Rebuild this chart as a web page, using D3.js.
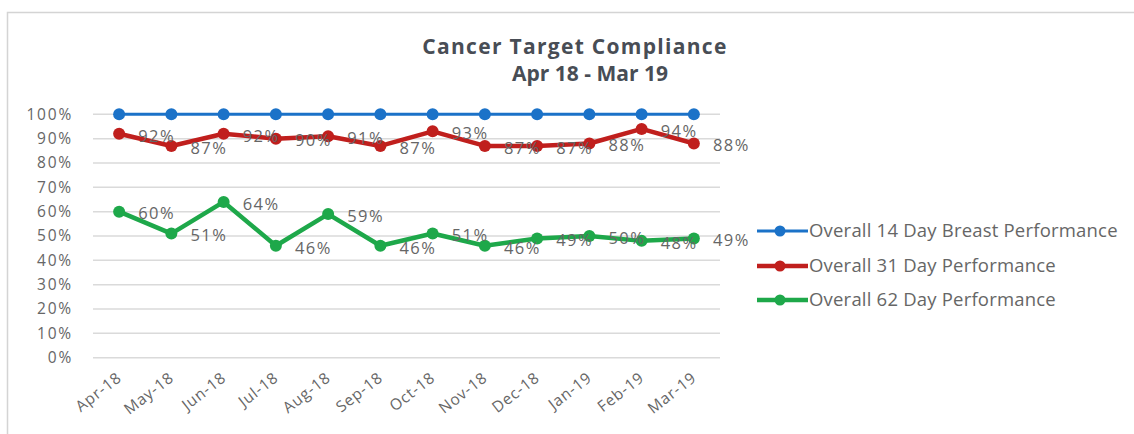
<!DOCTYPE html>
<html>
<head>
<meta charset="utf-8">
<script src="https://cdn.jsdelivr.net/npm/d3@7"></script>
<style>
  html, body { margin: 0; padding: 0; background: #fff; }
  svg { display: block; font-family: "Open Sans", "Noto Sans", sans-serif; }
</style>
</head>
<body>
<svg id="chart" width="1134" height="434"></svg>
<script>
// Monthly cancer target compliance, Apr 2018 – Mar 2019 (percent)
const months = ["Apr-18", "May-18", "Jun-18", "Jul-18", "Aug-18", "Sep-18",
                "Oct-18", "Nov-18", "Dec-18", "Jan-19", "Feb-19", "Mar-19"];
const breast14 = [100, 100, 100, 100, 100, 100, 100, 100, 100, 100, 100, 100];
const day31 = [92, 87, 92, 90, 91, 87, 93, 87, 87, 88, 94, 88];
const day62 = [60, 51, 64, 46, 59, 46, 51, 46, 49, 50, 48, 49];
const yTicks = [0, 10, 20, 30, 40, 50, 60, 70, 80, 90, 100];
const seriesNames = ["Overall 14 Day Breast Performance", "Overall 31 Day Performance", "Overall 62 Day Performance"];

const series = [
  { name: seriesNames[0], values: breast14, color: "#1B72C8", width: 3, labels: false },
  { name: seriesNames[1], values: day31, color: "#C01F1D", width: 4.5, labels: true },
  { name: seriesNames[2], values: day62, color: "#1EA84A", width: 4.5, labels: true }
];

const textGrey = "#666666";
const svg = d3.select("#chart");

// chart frame (top and left edges)
svg.append("path")
  .attr("d", "M7.5,434 L7.5,12.5 L1134,12.5")
  .attr("fill", "none").attr("stroke", "#d4d4d4").attr("stroke-width", 1.5);

// title
const title = svg.append("text")
  .attr("text-anchor", "middle")
  .attr("fill", "#484d55")
  .attr("font-weight", "bold")
  .attr("font-size", 21);
title.append("tspan").attr("x", 575).attr("y", 54).attr("letter-spacing", 1.3).text("Cancer Target Compliance");
title.append("tspan").attr("x", 590).attr("y", 81).text("Apr 18 - Mar 19");

const plotLeft = 93, plotRight = 720, plotTop = 114.3, plotBottom = 357.7;

const x = d3.scalePoint().domain(months).range([plotLeft, plotRight]).padding(0.5);
const y = d3.scaleLinear().domain([0, 100]).range([plotBottom, plotTop]);

// gridlines
svg.append("g")
  .selectAll("line")
  .data(yTicks)
  .join("line")
  .attr("x1", plotLeft).attr("x2", plotRight)
  .attr("y1", d => y(d)).attr("y2", d => y(d))
  .attr("stroke", "#dadada").attr("stroke-width", 1.5);

// y axis
const yAxis = svg.append("g")
  .attr("transform", `translate(${plotLeft - 20},0)`)
  .call(d3.axisLeft(y).tickValues(yTicks).tickFormat(d => d + "%").tickSize(0).tickPadding(0));
yAxis.select(".domain").remove();
yAxis.selectAll("text")
  .attr("fill", textGrey).attr("font-size", 15.5)
  .attr("letter-spacing", 1.8)
  .attr("font-family", "'Open Sans', sans-serif");

// x axis
const xAxis = svg.append("g")
  .attr("transform", `translate(0,${plotBottom})`)
  .call(d3.axisBottom(x).tickSize(0).tickPadding(0));
xAxis.select(".domain").remove();
xAxis.selectAll("text")
  .attr("fill", textGrey).attr("font-size", 15.5)
  .attr("letter-spacing", 0.8)
  .attr("font-family", "'Open Sans', sans-serif")
  .attr("text-anchor", "end")
  .attr("dy", 0)
  .attr("transform", "translate(3,22) rotate(-38)");

const line = d3.line().x((d, i) => x(months[i])).y(d => y(d));

series.forEach(s => {
  const g = svg.append("g");
  g.append("path")
    .datum(s.values)
    .attr("d", line)
    .attr("fill", "none")
    .attr("stroke", s.color)
    .attr("stroke-width", s.width)
    .attr("stroke-linejoin", "round");
  g.selectAll("circle")
    .data(s.values)
    .join("circle")
    .attr("cx", (d, i) => x(months[i]))
    .attr("cy", d => y(d))
    .attr("r", 6)
    .attr("fill", s.color);
});

// value labels, to the right of each point
series.filter(s => s.labels).forEach(s => {
  svg.append("g")
    .selectAll("text")
    .data(s.values)
    .join("text")
    .attr("x", (d, i) => x(months[i]) + 19)
    .attr("y", d => y(d) + 2)
    .attr("dy", "0.35em")
    .attr("fill", textGrey)
    .attr("font-size", 16.5)
    .attr("letter-spacing", 1.5)
    .text(d => d + "%");
});

// legend
const legend = svg.append("g");
const legendY = [231, 266, 300];
series.forEach((s, i) => {
  const row = legend.append("g").attr("transform", `translate(757,${legendY[i]})`);
  row.append("line").attr("x1", 0).attr("x2", 51).attr("y1", 0).attr("y2", 0)
    .attr("stroke", s.color).attr("stroke-width", s.width);
  row.append("circle").attr("cx", 23).attr("cy", 0).attr("r", 5.5).attr("fill", s.color);
  row.append("text").attr("x", 52).attr("y", 0).attr("dy", "0.35em")
    .attr("fill", textGrey).attr("font-size", 18.5)
    .attr("letter-spacing", 0.2)
    .text(s.name);
});
</script>
</body>
</html>
